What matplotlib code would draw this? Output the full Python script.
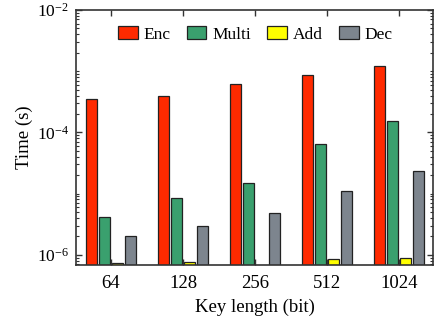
import numpy as np
import matplotlib
matplotlib.use('Agg')
import matplotlib.pyplot as plt
from matplotlib.ticker import LogLocator, NullFormatter

plt.rcParams['font.family'] = ['Liberation Serif', 'DejaVu Serif']
plt.rcParams['mathtext.fontset'] = 'custom'
plt.rcParams['mathtext.rm'] = 'Liberation Serif'

# data (seconds)
key_lengths = ['64', '128', '256', '512', '1024']
enc = [3.56e-4, 3.9e-4, 6.1e-4, 8.5e-4, 1.21e-3]
multi = [4.2e-6, 8.6e-6, 1.47e-5, 6.5e-5, 1.53e-4]
add = [7.3e-7, 7.6e-7, 6.6e-7, 8.5e-7, 8.9e-7]
dec = [2.0e-6, 2.9e-6, 4.9e-6, 1.1e-5, 2.36e-5]

series = [('Enc', enc, '#ff2a00'),
          ('Multi', multi, '#3aa06e'),
          ('Add', add, '#ffff00'),
          ('Dec', dec, '#7d858e')]

fig = plt.figure(figsize=(4.36, 3.22), dpi=100)
ax = fig.add_axes([0.1743, 0.177, 0.819, 0.792])

x = np.arange(len(key_lengths))
w = 0.15
step = 0.18
for i, (name, vals, col) in enumerate(series):
    ax.bar(x + (i - 1.5) * step, vals, w, color=col, edgecolor='#222222',
           linewidth=0.9, label=name)

ax.set_yscale('log')
ax.set_ylim(6.8e-7, 1e-2)
ax.set_xlim(-0.486, 4.472)
ax.set_xticks(x)
ax.set_xticklabels(key_lengths)
ax.yaxis.set_major_locator(LogLocator(base=100))
ax.yaxis.set_minor_locator(LogLocator(base=10, subs=np.arange(1, 10), numticks=20))
ax.yaxis.set_minor_formatter(NullFormatter())

ax.tick_params(which='both', direction='in', top=True, right=True,
               color='#333333')
ax.tick_params(axis='x', labelsize=13.5, pad=7)
ax.tick_params(axis='y', labelsize=12.5, pad=5)
ax.tick_params(which='major', length=4, width=1)
ax.tick_params(which='minor', length=2, width=0.8)
for s in ax.spines.values():
    s.set_linewidth(1.2)
    s.set_color('#333333')

ax.set_xlabel('Key length (bit)', fontsize=13.5, labelpad=5)
ax.set_ylabel('Time (s)', fontsize=13.5, labelpad=3)

ax.legend(loc='upper center', ncol=4, frameon=False, fontsize=12.5,
          handlelength=1.15, handleheight=0.75, columnspacing=0.9,
          handletextpad=0.35, bbox_to_anchor=(0.502, 0.998))

fig.savefig('out.png', dpi=100)
